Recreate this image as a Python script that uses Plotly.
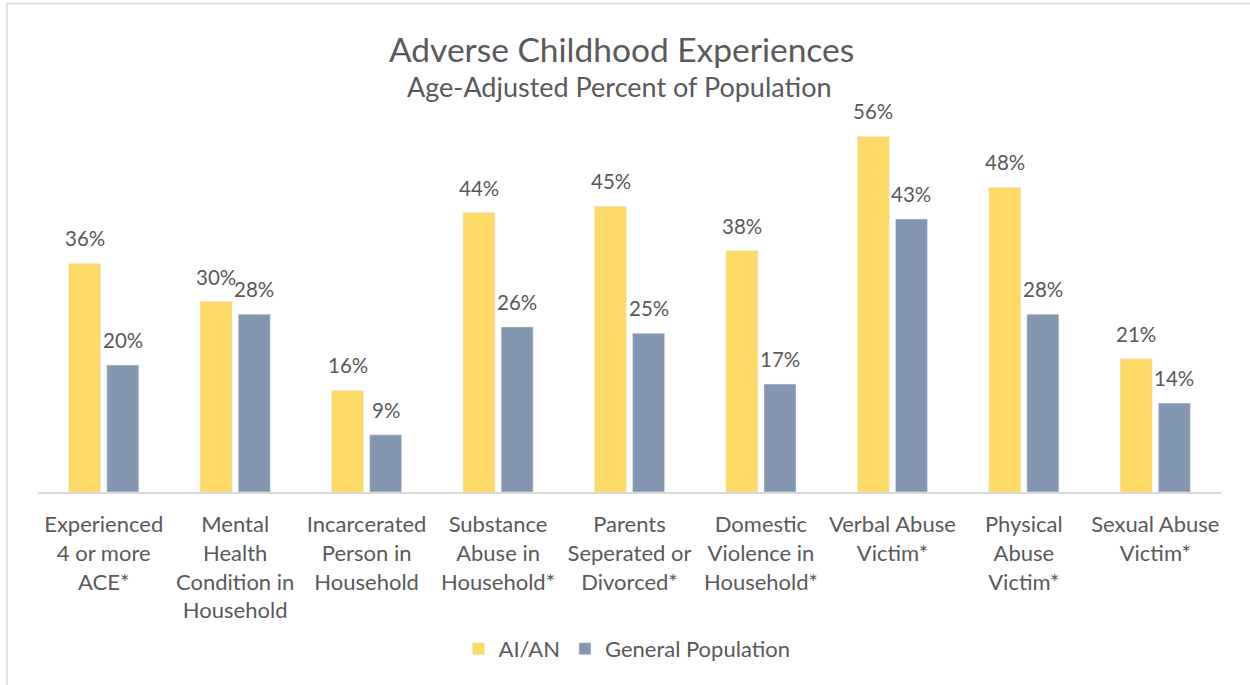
import plotly.graph_objects as go

categories = [
    "Experienced<br>4 or more<br>ACE*",
    "Mental<br>Health<br>Condition in<br>Household",
    "Incarcerated<br>Person in<br>Household",
    "Substance<br>Abuse in<br>Household*",
    "Parents<br>Seperated or<br>Divorced*",
    "Domestic<br>Violence in<br>Household*",
    "Verbal Abuse<br>Victim*",
    "Physical<br>Abuse<br>Victim*",
    "Sexual Abuse<br>Victim*",
]
aian = [36, 30, 16, 44, 45, 38, 56, 48, 21]
general = [20, 28, 9, 26, 25, 17, 43, 28, 14]

YELLOW = "#FFD966"
BLUE = "#8497B0"
GREY_TEXT = "#595959"
FONT = "Lato"

W, H = 1250, 685
ML, MR, MT, MB = 38, 29, 111, 193
PW, PH = W - ML - MR, H - MT - MB

def px_x(px):
    return (px - ML) / PW

def px_y(py):
    return (H - MB - py) / PH

x_idx = list(range(len(categories)))

fig = go.Figure()
fig.add_trace(go.Bar(x=x_idx, y=aian, name="AI/AN", marker_color=YELLOW))
fig.add_trace(go.Bar(x=x_idx, y=general, name="General Population", marker_color=BLUE))

annotations = []
for i, (a, g) in enumerate(zip(aian, general)):
    for val, shift in ((a, -19), (g, 19)):
        annotations.append(dict(
            x=i, y=val, xref="x", yref="y", text=f"{val}%", showarrow=False,
            xshift=shift, yshift=11, yanchor="bottom",
            font=dict(family=FONT, size=20.5, color=GREY_TEXT),
        ))

annotations.append(dict(
    x=px_x(621), y=px_y(49), xref="paper", yref="paper",
    text="Adverse Childhood Experiences", showarrow=False,
    xanchor="center", yanchor="middle",
    font=dict(family=FONT, size=33.5, color=GREY_TEXT),
))
annotations.append(dict(
    x=px_x(619), y=px_y(86), xref="paper", yref="paper",
    text="Age-Adjusted Percent of Population", showarrow=False,
    xanchor="center", yanchor="middle",
    font=dict(family=FONT, size=27, color=GREY_TEXT),
))

fig.update_layout(
    width=W, height=H,
    margin=dict(l=ML, r=MR, t=MT, b=MB),
    paper_bgcolor="white", plot_bgcolor="white",
    barmode="group", bargap=0.42, bargroupgap=0.16,
    showlegend=True,
    legend=dict(
        orientation="h", x=px_x(627), y=px_y(649),
        xanchor="center", yanchor="middle",
        font=dict(family=FONT, size=22, color=GREY_TEXT),
        itemwidth=30, traceorder="normal",
    ),
    annotations=annotations,
    shapes=[dict(
        type="rect", xref="paper", yref="paper",
        x0=px_x(7), x1=px_x(1260), y0=px_y(700), y1=px_y(3.5),
        line=dict(color="#D9D9D9", width=1.5), layer="below",
    )],
    xaxis=dict(
        tickmode="array", tickvals=x_idx, ticktext=categories,
        range=[-0.5, len(categories) - 0.5],
        showline=True, linecolor="#D9D9D9", linewidth=2,
        ticks="", showgrid=False, zeroline=False,
        tickfont=dict(family=FONT, size=22, color=GREY_TEXT),
        ticklabelstandoff=12,
    ),
    yaxis=dict(
        range=[0, 60], visible=False, showgrid=False, zeroline=False,
    ),
)

fig.write_html("out.html")
